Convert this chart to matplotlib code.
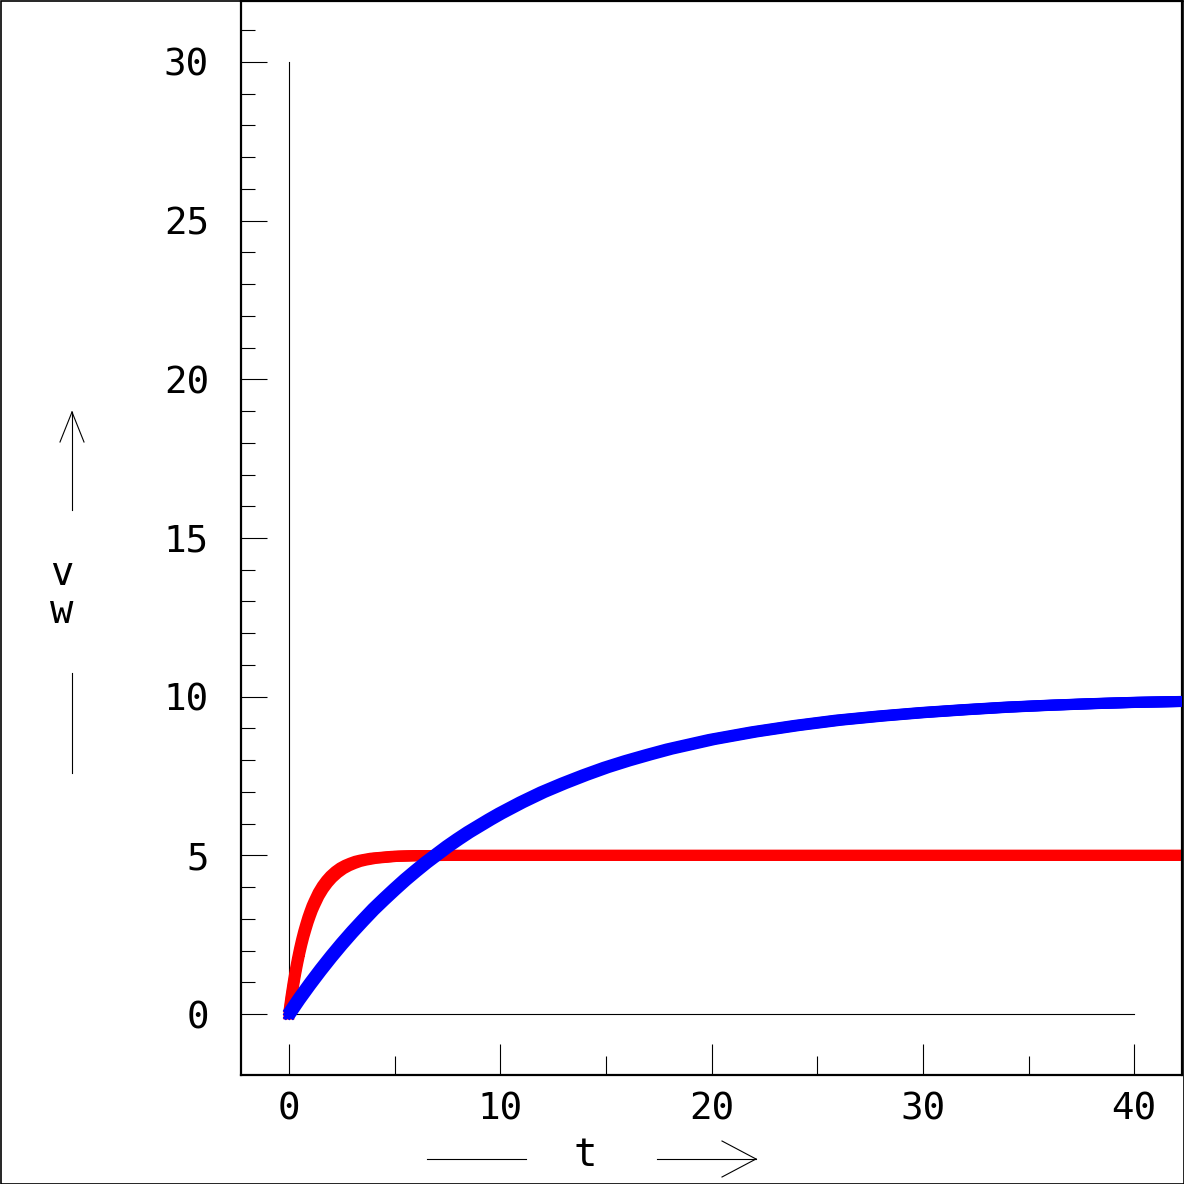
import matplotlib
matplotlib.use("Agg")
import matplotlib.pyplot as plt
from matplotlib.lines import Line2D
from matplotlib.patches import Rectangle
from matplotlib.ticker import FixedLocator
from matplotlib.transforms import offset_copy

# ---- data ----
red_t = [0.0, 0.1, 0.2, 0.3, 0.4, 0.5, 0.6, 0.7, 0.8, 0.9, 1.0, 1.1, 1.2, 1.4, 1.6, 1.8,
         2.0, 2.25, 2.5, 2.75, 3.0, 3.25, 3.5, 4.0, 4.5, 5.0, 6.0, 8.0, 10.0, 15.0, 20.0,
         30.0, 42.3]
red_v = [0.0, 0.48, 0.91, 1.30, 1.65, 1.97, 2.26, 2.52, 2.75, 2.97, 3.16, 3.34, 3.49, 3.77,
         3.99, 4.17, 4.32, 4.47, 4.59, 4.68, 4.75, 4.81, 4.85, 4.91, 4.94, 4.97, 4.99, 5.0,
         5.0, 5.0, 5.0, 5.0, 5.0]

blue_t = [0, 0.5, 1, 1.5, 2, 2.5, 3, 3.5, 4, 4.5, 5, 5.5, 6, 6.5, 7, 7.5, 8, 8.5, 9, 9.5,
          10, 11, 12, 13, 14, 15, 16, 17, 18, 19, 20, 22, 24, 26, 28, 30, 32, 34, 36, 38,
          40, 42.3]
blue_v = [0.0, 0.49, 0.95, 1.39, 1.81, 2.21, 2.59, 2.95, 3.30, 3.62, 3.93, 4.23, 4.51, 4.78,
          5.03, 5.28, 5.51, 5.73, 5.93, 6.13, 6.32, 6.67, 6.99, 7.27, 7.53, 7.77, 7.98, 8.17,
          8.35, 8.50, 8.65, 8.89, 9.09, 9.26, 9.39, 9.50, 9.59, 9.67, 9.73, 9.78, 9.82, 9.85]

x_major = [0, 10, 20, 30, 40]
x_minor = [5, 15, 25, 35]
y_major = [0, 5, 10, 15, 20, 25, 30]
y_minor = [i for i in range(0, 32) if i % 5 != 0]

W = H = 1184
fig = plt.figure(figsize=(11.84, 11.84), dpi=100)
ax = fig.add_axes([241 / W, 1 - 1075 / H, (1182 - 241) / W, (1075 - 1) / H])

ax.set_xlim(-2.27, 42.26)
ax.set_ylim(-1.92, 31.92)

# inner reference lines
ax.plot([0, 0], [0, 30], color="black", lw=0.8, zorder=1)
ax.plot([0, 40], [0, 0], color="black", lw=0.8, zorder=1)


def square_trail(t, v, color, z):
    # a trail of ~11px squares: the same curve drawn over a 3x3 grid of pixel offsets
    for dx in (-3.5, 0.0, 3.5):
        for dy in (-3.5, 0.0, 3.5):
            tr = offset_copy(ax.transData, fig=fig, x=dx, y=dy, units="dots")
            ax.plot(t, v, color=color, lw=2.9, transform=tr, solid_capstyle="projecting",
                    solid_joinstyle="miter", zorder=z)


square_trail(red_t, red_v, "#ff0000", 2)
ax.plot(red_t[:8], red_v[:8], ls="none", marker="s", ms=7.9, mew=0, color="#ff0000", zorder=2)
square_trail(blue_t, blue_v, "#0000ff", 3)

for s in ax.spines.values():
    s.set_linewidth(1.6)
    s.set_color("black")

ax.xaxis.set_major_locator(FixedLocator(x_major))
ax.xaxis.set_minor_locator(FixedLocator(x_minor))
ax.yaxis.set_major_locator(FixedLocator(y_major))
ax.yaxis.set_minor_locator(FixedLocator(y_minor))

font = dict(family="DejaVu Sans Mono", size=27)
ax.set_xticklabels([str(v) for v in x_major], **font)
ax.set_yticklabels([str(v) for v in y_major], **font)

ax.tick_params(axis="x", which="major", direction="in", length=22, width=0.8, pad=12)
ax.tick_params(axis="x", which="minor", direction="in", length=14, width=0.8)
ax.tick_params(axis="y", which="major", direction="in", length=19, width=0.8, pad=23)
ax.tick_params(axis="y", which="minor", direction="in", length=10, width=0.8)


def fx(px):
    return px / W


def fy(py):
    return 1 - py / H


def seg(x0, y0, x1, y1):
    fig.add_artist(Line2D([fx(x0), fx(x1)], [fy(y0), fy(y1)], color="black",
                          lw=0.8, transform=fig.transFigure))


# y label with arrows
fig.text(fx(62), fy(593), "v\nw", ha="center", va="center", family="DejaVu Sans Mono",
         size=28, linespacing=1.0)
seg(72, 510, 72, 412)
seg(60, 442, 72, 412)
seg(84, 442, 72, 412)
seg(72, 673, 72, 773)

# x label with arrows
fig.text(fx(585), fy(1155), "t", ha="center", va="center", family="DejaVu Sans Mono", size=28)
seg(427, 1159, 526, 1159)
seg(657, 1159, 756, 1159)
seg(722, 1141, 756, 1159)
seg(722, 1177, 756, 1159)

# figure border
fig.add_artist(Rectangle((0.5 / W, 0.5 / H), 1 - 1 / W, 1 - 1 / H, fill=False,
                         edgecolor="black", lw=1.2, transform=fig.transFigure))

fig.savefig("out.png", dpi=100)
